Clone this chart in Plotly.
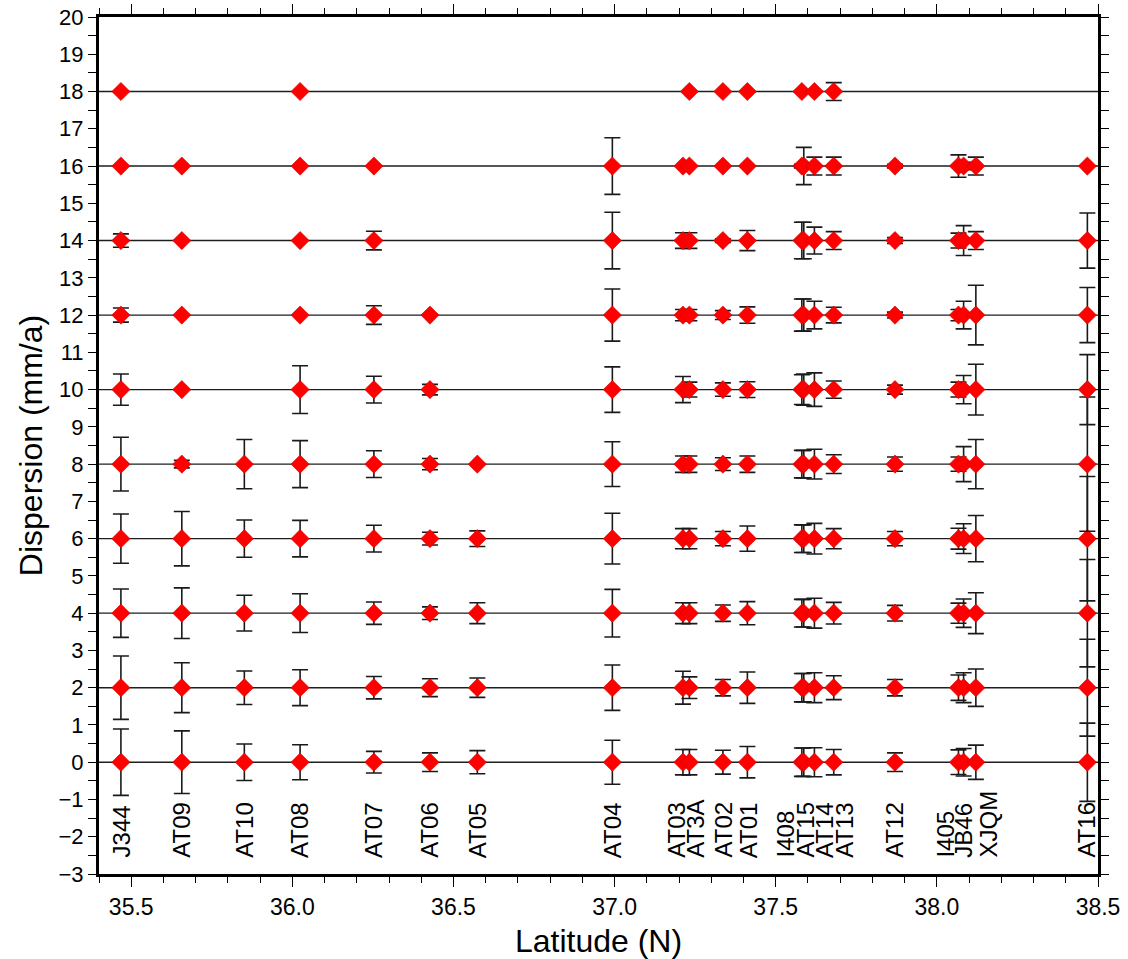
import plotly.graph_objects as go

# ---------------- data ----------------
stations = ["J344", "AT09", "AT10", "AT08", "AT07", "AT06", "AT05", "AT04",
            "AT03", "AT3A", "AT02", "AT01", "I408", "AT15", "AT14", "AT13",
            "AT12", "I405", "JB46", "XJQM", "AT16"]
latitude = [35.468, 35.657, 35.851, 36.024, 36.253, 36.427, 36.574, 36.993,
            37.212, 37.232, 37.336, 37.412, 37.581, 37.587, 37.620, 37.680,
            37.870, 38.067, 38.083, 38.121, 38.467]
# label placement (spread where stations crowd together)
label_lat = [35.470, 35.657, 35.853, 36.024, 36.254, 36.427, 36.577, 36.993,
             37.193, 37.252, 37.338, 37.415, 37.529, 37.593, 37.653, 37.715,
             37.870, 38.026, 38.082, 38.159, 38.465]

levels = [0, 2, 4, 6, 8, 10, 12, 14, 16, 18]

# error half-lengths (mm/a) per level, station order as above; None = no point
err_00 = [0.89, 0.84, 0.49, 0.47, 0.29, 0.25, 0.31, 0.59, 0.34, 0.34, 0.32,
          0.42, 0.38, 0.38, 0.39, 0.34, 0.25, 0.33, 0.37, 0.46, 1.05]
err_02 = [0.85, 0.67, 0.45, 0.48, 0.30, 0.24, 0.26, 0.61, 0.44, 0.29, 0.22,
          0.42, 0.38, 0.38, 0.40, 0.32, 0.22, 0.34, 0.40, 0.50, 1.30]
err_04 = [0.65, 0.68, 0.48, 0.52, 0.30, 0.17, 0.28, 0.64, 0.28, 0.28, 0.22,
          0.31, 0.37, 0.37, 0.40, 0.29, 0.21, 0.27, 0.38, 0.55, 1.44]
err_06 = [0.66, 0.73, 0.50, 0.49, 0.36, 0.17, 0.21, 0.68, 0.27, 0.27, 0.19,
          0.34, 0.37, 0.37, 0.41, 0.27, 0.19, 0.28, 0.40, 0.62, 1.67]
err_08 = [0.72, 0.10, 0.66, 0.63, 0.36, 0.15, 0.00, 0.60, 0.22, 0.22, 0.17,
          0.22, 0.37, 0.37, 0.40, 0.25, 0.19, 0.19, 0.47, 0.66, 1.80]
err_10 = [0.42, 0.00, None, 0.64, 0.36, 0.14, None, 0.61, 0.35, 0.20, 0.18,
          0.21, 0.40, 0.42, 0.45, 0.23, 0.12, 0.20, 0.38, 0.68, 0.94]
err_12 = [0.19, 0.00, None, 0.00, 0.25, 0.00, None, 0.70, 0.15, 0.15, 0.12,
          0.22, 0.43, 0.43, 0.37, 0.21, 0.08, 0.15, 0.37, 0.80, 0.74]
err_14 = [0.18, 0.00, None, 0.00, 0.25, None, None, 0.76, 0.21, 0.21, 0.05,
          0.27, 0.49, 0.49, 0.36, 0.24, 0.08, 0.20, 0.40, 0.24, 0.74]
err_16 = [0.00, 0.00, None, 0.00, 0.00, None, None, 0.76, 0.00, 0.00, 0.00,
          0.00, 0.05, 0.50, 0.24, 0.24, 0.05, 0.30, 0.10, 0.24, 0.00]
err_18 = [0.00, None, None, 0.00, None, None, None, None, None, 0.00, 0.00,
          0.00, 0.00, None, 0.00, 0.24, None, None, None, None, None]

errors = [err_00, err_02, err_04, err_06, err_08, err_10, err_12, err_14,
          err_16, err_18]

x_ticks = [35.5, 36.0, 36.5, 37.0, 37.5, 38.0, 38.5]

# ---------------- figure ----------------
FONT = "Liberation Sans, Arial, Helvetica, sans-serif"
fig = go.Figure()

for lv in levels:
    fig.add_shape(type="line", xref="paper", x0=0, x1=1, yref="y", y0=lv, y1=lv,
                  line=dict(color="#1e1e1e", width=1.4), layer="below")

for lv, err in zip(levels, errors):
    xs = [la for la, e in zip(latitude, err) if e is not None]
    ys = [lv for e in err if e is not None]
    es = [e for e in err if e is not None]
    fig.add_trace(go.Scatter(
        x=xs, y=ys, mode="markers",
        marker=dict(symbol="diamond", size=14, color="#ff0000",
                    line=dict(width=0.6, color="#d00000")),
        error_y=dict(type="data", array=es, visible=True, color="#1a1a1a",
                     thickness=1.6, width=8),
        showlegend=False, hoverinfo="skip"))

for name, lx in zip(stations, label_lat):
    fig.add_annotation(x=lx, y=-2.62, xref="x", yref="y", text=name,
                       textangle=-90, showarrow=False, xanchor="center",
                       yanchor="bottom", font=dict(family=FONT, size=24, color="black"))

axis_common = dict(showline=True, linecolor="black", linewidth=3, mirror="allticks",
                   ticks="outside", tickcolor="black", tickwidth=1.3,
                   showgrid=False, zeroline=False, ticklabeloverflow="allow")

fig.update_xaxes(range=[35.4, 38.5], tickvals=x_ticks, tickformat=".1f", ticklen=10,
                 minor=dict(dtick=0.1, tick0=35.4, ticklen=6, ticks="outside",
                            tickcolor="black", tickwidth=1.2, showgrid=False),
                 tickfont=dict(family=FONT, size=23, color="black"),
                 title=dict(text="Latitude (N)", font=dict(family=FONT, size=32, color="black"),
                            standoff=12),
                 **axis_common)
fig.update_yaxes(range=[-3, 20], dtick=1, tick0=0, ticklen=8,
                 minor=dict(dtick=0.5, ticklen=8, ticks="outside", tickcolor="black",
                            tickwidth=1.2, showgrid=False),
                 tickfont=dict(family=FONT, size=22, color="black"),
                 title=dict(text="Dispersion (mm/a)", font=dict(family=FONT, size=32, color="black"),
                            standoff=7),
                 **axis_common)

fig.update_layout(width=1128, height=959, plot_bgcolor="white", paper_bgcolor="white",
                  margin=dict(l=99, r=30, t=17, b=85, autoexpand=False))

# remove the default page margin so the figure sits at the window's top-left corner
fig.write_html("out.html", config={"displayModeBar": False},
               post_script="document.body.style.margin='0px';")
